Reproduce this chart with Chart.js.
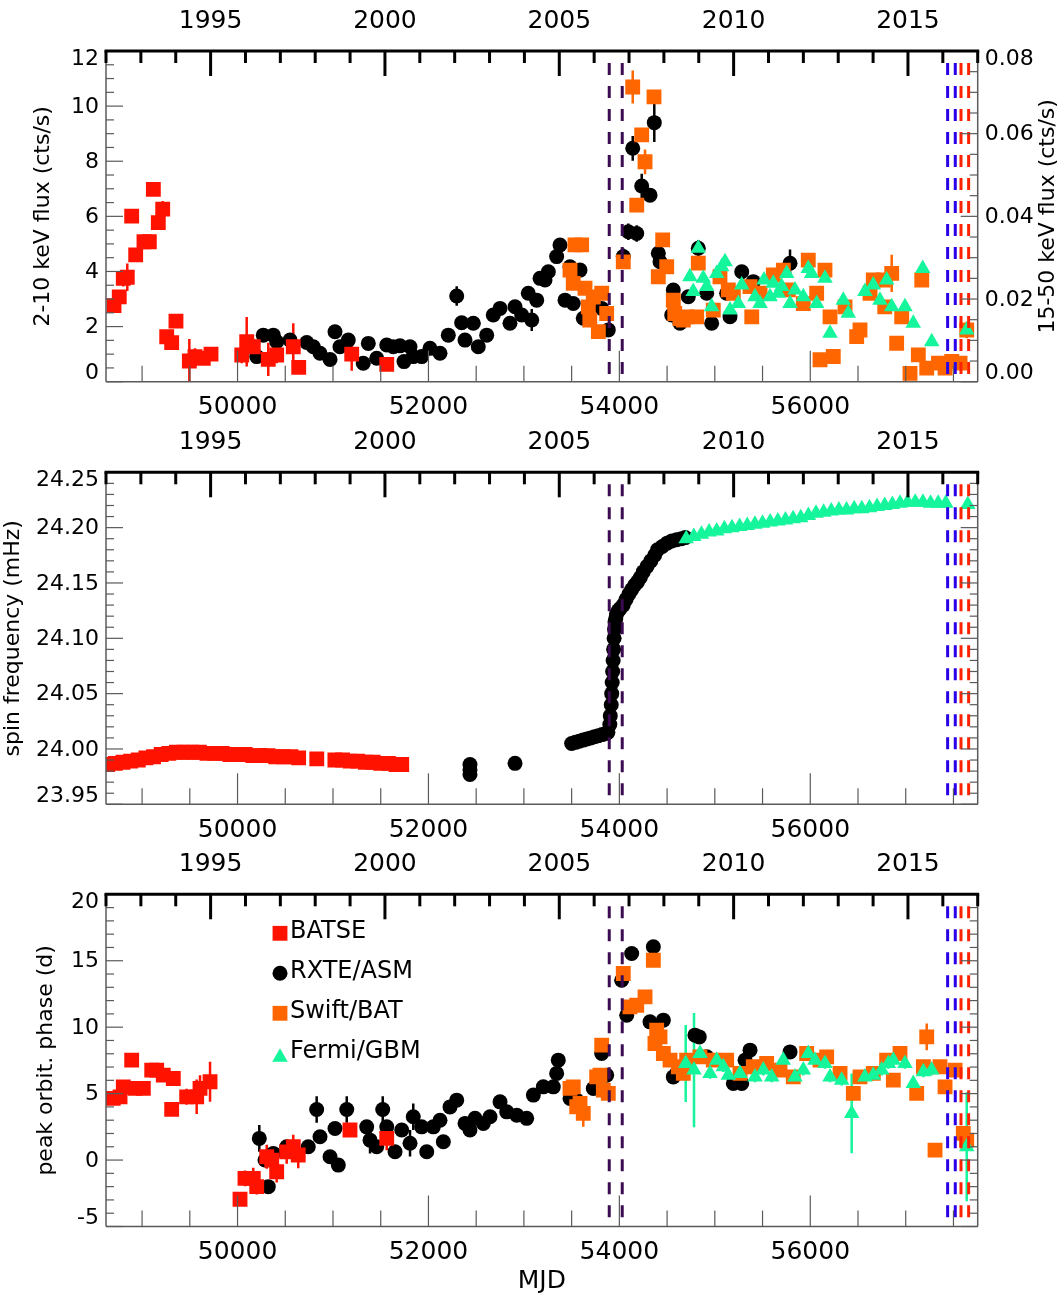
<!DOCTYPE html>
<html>
<head>
<meta charset="utf-8">
<title>Flux, spin frequency and orbital phase history</title>
<script src="https://cdn.jsdelivr.net/npm/chart.js@4/dist/chart.umd.min.js"></script>
<style>
  html, body { margin: 0; padding: 0; background: #fff; }
  #wrap { position: relative; width: 1063px; height: 1298px; }
  canvas { position: absolute; left: 0; }
</style>
</head>
<body>
<div id="wrap">
  <canvas id="flux-chart"  width="1063" height="420" style="top:0"></canvas>
  <canvas id="spin-chart"  width="1063" height="420" style="top:420px"></canvas>
  <canvas id="phase-chart" width="1063" height="458" style="top:840px"></canvas>
</div>
<script>
// ---- axes ----
const mjdRange   = [48622, 57754];
const yearRange  = [1992, 2017];
const mjdTicks   = [50000, 52000, 54000, 56000];
const yearTicks  = [1995, 2000, 2005, 2010, 2015];
const fluxTicks  = [0, 2, 4, 6, 8, 10, 12];
const batTicks   = [0.00, 0.02, 0.04, 0.06, 0.08];
const spinTicks  = [23.95, 24.00, 24.05, 24.10, 24.15, 24.20, 24.25];
const phaseTicks = [-5, 0, 5, 10, 15, 20];

// dashed markers (MJD)
const outburstMjd    = [53894, 54030, 57439, 57519, 57579, 57659];
const outburstColors = ['#3c0c52', '#3c0c52', '#2a00e8', '#2a00e8', '#ff2200', '#ff2200'];

const legendLabels = ['BATSE', 'RXTE/ASM', 'Swift/BAT', 'Fermi/GBM'];

// ---- panel 1: flux ----
const fluxBatseMjd = [48706, 48761, 48803, 48845, 48891, 48933, 49020, 49076, 49118, 49170, 49216, 49258, 49310, 49355, 49495, 49554, 49641, 49722, 50044, 50096, 50165, 50322, 50410, 50584, 50641, 51196, 51563];
const fluxBatse    = [2.76, 3.08, 3.75, 3.79, 6.01, 4.60, 5.08, 5.08, 6.98, 5.77, 6.26, 1.63, 1.42, 2.20, 0.75, 0.91, 0.85, 1.00, 0.97, 1.45, 1.27, 0.81, 0.97, 1.27, 0.52, 1.00, 0.63];
const fluxBatseErr = [0.2, 0.2, 0.3, 0.5, 0.2, 0.2, 0.2, 0.2, 0.2, 0.2, 0.3, 0.2, 0.2, 0.2, 0.8, 0.3, 0.2, 0.2, 0.3, 0.9, 0.3, 0.6, 0.3, 0.85, 0.2, 0.6, 0.2];

const fluxAsmMjd = [50201, 50270, 50375, 50410, 50550, 50725, 50794, 50864, 50969, 51021, 51073, 51160, 51317, 51370, 51458, 51563, 51632, 51702, 51744, 51807, 51841, 51929, 52016, 52121, 52208, 52296, 52348, 52383, 52470, 52522, 52610, 52679, 52750, 52854, 52907, 52977, 53046, 53082, 53134, 53169, 53221, 53256, 53343, 53378, 53431, 53483, 53517, 53588, 53622, 53815, 53884, 54041, 54094, 54140, 54182, 54234, 54321, 54366, 54408, 54426, 54548, 54565, 54635, 54722, 54827, 54915, 54967, 55124, 55159, 55282, 55403, 55788];
const fluxAsm    = [0.91, 1.69, 1.69, 1.45, 1.51, 1.42, 1.27, 1.03, 0.81, 1.81, 1.27, 1.51, 0.67, 1.39, 0.85, 1.33, 1.27, 1.30, 0.73, 1.27, 0.91, 0.91, 1.21, 1.03, 1.69, 3.11, 2.14, 1.51, 2.12, 1.27, 1.69, 2.42, 2.66, 2.12, 2.72, 2.42, 3.21, 2.24, 2.96, 3.75, 3.69, 3.99, 4.54, 4.96, 2.96, 4.17, 2.84, 4.05, 2.30, 2.66, 1.88, 4.54, 5.44, 8.47, 5.38, 7.10, 6.77, 9.40, 4.66, 4.35, 2.42, 3.33, 2.12, 3.08, 4.84, 3.21, 2.12, 3.21, 2.36, 3.99, 3.63, 4.30];
const fluxAsmErr = [0.15, 0.15, 0.15, 0.15, 0.15, 0.15, 0.15, 0.15, 0.15, 0.15, 0.15, 0.15, 0.15, 0.15, 0.15, 0.15, 0.15, 0.15, 0.15, 0.15, 0.15, 0.15, 0.15, 0.15, 0.15, 0.35, 0.15, 0.15, 0.15, 0.15, 0.15, 0.15, 0.15, 0.15, 0.15, 0.15, 0.15, 0.4, 0.15, 0.15, 0.15, 0.15, 0.15, 0.15, 0.15, 0.15, 0.15, 0.15, 0.15, 0.15, 0.15, 0.3, 0.3, 0.45, 0.3, 0.45, 0.2, 0.7, 0.15, 0.15, 0.15, 0.15, 0.15, 0.15, 0.3, 0.15, 0.15, 0.15, 0.15, 0.15, 0.15, 0.5];

// Swift/BAT on the right axis (15-50 keV, cts/s)
const fluxBatMjd = [53483, 53517, 53535, 53605, 53640, 53675, 53690, 53727, 53780, 53815, 53867, 54041, 54140, 54182, 54234, 54269, 54363, 54408, 54454, 54496, 54565, 54580, 54635, 54670, 54705, 54810, 54827, 54984, 55054, 55141, 55194, 55369, 55387, 55474, 55613, 55718, 55770, 55927, 55979, 56067, 56102, 56154, 56207, 56241, 56364, 56486, 56521, 56626, 56660, 56765, 56780, 56853, 56905, 56958, 57045, 57132, 57168, 57220, 57343, 57412, 57482, 57569, 57639];
const fluxBat    = [0.0270, 0.0238, 0.0331, 0.0331, 0.0226, 0.0181, 0.0149, 0.0205, 0.0121, 0.0214, 0.0165, 0.0290, 0.0713, 0.0427, 0.0597, 0.0532, 0.0689, 0.0254, 0.0343, 0.0278, 0.0197, 0.0165, 0.0153, 0.0149, 0.0157, 0.0157, 0.0287, 0.0173, 0.0254, 0.0222, 0.0214, 0.0230, 0.0157, 0.0214, 0.0258, 0.0270, 0.0222, 0.0189, 0.0294, 0.0214, 0.0053, 0.0270, 0.0157, 0.0061, 0.0181, 0.0109, 0.0125, 0.0214, 0.0246, 0.0246, 0.0181, 0.0262, 0.0093, 0.0157, 0.0020, 0.0065, 0.0246, 0.0033, 0.0045, 0.0033, 0.0049, 0.0045, 0.0125];
const fluxBatErr = [0.0012, 0.0012, 0.0012, 0.0012, 0.0012, 0.0012, 0.0012, 0.0012, 0.0012, 0.0012, 0.0012, 0.0012, 0.004, 0.0012, 0.0012, 0.003, 0.0012, 0.0012, 0.0012, 0.0012, 0.0012, 0.0012, 0.0012, 0.0012, 0.0012, 0.0012, 0.0012, 0.0012, 0.0012, 0.0012, 0.0012, 0.0012, 0.0012, 0.0012, 0.0012, 0.0012, 0.0012, 0.0012, 0.0012, 0.0012, 0.0012, 0.0012, 0.0012, 0.0012, 0.0012, 0.0012, 0.0012, 0.0012, 0.0012, 0.0012, 0.0012, 0.0045, 0.0012, 0.0012, 0.0012, 0.0012, 0.0012, 0.0012, 0.0012, 0.0012, 0.0012, 0.0012, 0.002];

const fluxGbmMjd = [54739, 54774, 54827, 54879, 54915, 54967, 55020, 55072, 55107, 55159, 55246, 55282, 55421, 55474, 55515, 55578, 55613, 55665, 55701, 55753, 55788, 55840, 55927, 55979, 56014, 56067, 56154, 56207, 56346, 56398, 56573, 56660, 56730, 56800, 56853, 56992, 57079, 57178, 57272, 57639];
const fluxGbm    = [3.81, 3.27, 4.84, 3.75, 3.45, 2.72, 3.93, 4.17, 4.35, 2.60, 2.84, 3.51, 3.08, 2.84, 3.69, 3.08, 3.57, 3.21, 3.45, 3.93, 2.84, 3.33, 3.08, 4.11, 3.93, 2.84, 3.75, 1.76, 2.96, 2.48, 3.27, 3.51, 2.96, 3.69, 2.72, 2.72, 2.12, 4.11, 1.45, 1.88];

// ---- panel 2: spin frequency (mHz) ----
const spinBatseMjd = [48640, 48720, 48800, 48880, 48960, 49040, 49120, 49200, 49280, 49360, 49440, 49520, 49600, 49680, 49760, 49840, 49920, 50000, 50080, 50160, 50240, 50320, 50400, 50480, 50560, 50640, 50830, 51020, 51100, 51180, 51260, 51340, 51420, 51500, 51580, 51660, 51720];
const spinBatse    = [23.986, 23.987, 23.988, 23.989, 23.990, 23.992, 23.993, 23.995, 23.996, 23.997, 23.997, 23.997, 23.997, 23.996, 23.996, 23.996, 23.995, 23.995, 23.995, 23.994, 23.994, 23.994, 23.993, 23.993, 23.993, 23.992, 23.991, 23.990, 23.990, 23.989, 23.989, 23.988, 23.988, 23.987, 23.987, 23.986, 23.986];
const spinBatseErr = [0.002, 0.002, 0.002, 0.002, 0.002, 0.002, 0.002, 0.002, 0.002, 0.002, 0.002, 0.002, 0.002, 0.002, 0.002, 0.002, 0.002, 0.002, 0.002, 0.002, 0.002, 0.002, 0.002, 0.002, 0.002, 0.002, 0.002, 0.002, 0.002, 0.002, 0.002, 0.002, 0.002, 0.002, 0.002, 0.002, 0.002];

const spinAsmMjd = [50267, 52435, 52435, 52435, 52907, 53500, 53540, 53580, 53620, 53660, 53700, 53740, 53780, 53820, 53860, 53880, 53900, 53905, 53915, 53920, 53925, 53930, 53935, 53940, 53945, 53950, 53955, 53962, 53970, 53990, 54010, 54040, 54070, 54100, 54130, 54160, 54190, 54220, 54250, 54290, 54330, 54370, 54400, 54450, 54500, 54550, 54600, 54650, 54690];
const spinAsm    = [23.994, 23.986, 23.981, 23.977, 23.987, 24.005, 24.006, 24.007, 24.008, 24.009, 24.010, 24.011, 24.012, 24.013, 24.014, 24.015, 24.022, 24.030, 24.040, 24.050, 24.060, 24.070, 24.080, 24.090, 24.100, 24.108, 24.115, 24.118, 24.122, 24.125, 24.127, 24.130, 24.135, 24.140, 24.144, 24.148, 24.151, 24.155, 24.160, 24.165, 24.170, 24.175, 24.180, 24.183, 24.186, 24.188, 24.189, 24.190, 24.191];

const spinGbmMjd = [54700, 54780, 54860, 54940, 55020, 55100, 55180, 55260, 55340, 55420, 55500, 55580, 55660, 55740, 55820, 55900, 55980, 56060, 56140, 56220, 56300, 56380, 56460, 56540, 56620, 56700, 56780, 56860, 56940, 57020, 57100, 57180, 57260, 57340, 57420, 57650];
const spinGbm    = [24.190, 24.192, 24.194, 24.196, 24.197, 24.199, 24.200, 24.201, 24.202, 24.203, 24.204, 24.205, 24.206, 24.207, 24.208, 24.209, 24.211, 24.213, 24.214, 24.215, 24.216, 24.216, 24.217, 24.217, 24.218, 24.219, 24.220, 24.221, 24.222, 24.223, 24.223, 24.223, 24.222, 24.222, 24.222, 24.221];

// ---- panel 3: peak orbital phase (d) ----
const phaseBatseMjd = [48698, 48769, 48803, 48891, 48926, 49013, 49101, 49153, 49222, 49310, 49327, 49467, 49572, 49607, 49712, 50026, 50078, 50165, 50201, 50306, 50358, 50410, 50515, 50584, 50636, 51178, 51563];
const phaseBatse    = [4.64, 4.76, 5.51, 7.52, 5.39, 5.39, 6.77, 6.77, 6.39, 3.81, 6.14, 4.76, 4.76, 5.39, 5.89, -2.95, -1.38, -1.38, -2.00, 0.25, 0.00, -0.88, 0.62, 1.00, 0.38, 2.26, 1.63];
const phaseBatseErr = [0.4, 0.4, 0.5, 0.4, 0.5, 0.4, 0.5, 0.5, 0.5, 0.5, 0.5, 0.6, 1.3, 1.0, 1.5, 0.5, 0.6, 0.8, 0.6, 0.9, 1.0, 0.8, 0.9, 0.9, 1.0, 0.5, 0.9];

const phaseAsmMjd = [50228, 50288, 50322, 50375, 50515, 50741, 50829, 50864, 50969, 51021, 51056, 51144, 51353, 51388, 51458, 51521, 51563, 51650, 51720, 51807, 51841, 51929, 51982, 52051, 52121, 52156, 52226, 52296, 52383, 52435, 52488, 52575, 52645, 52750, 52820, 52925, 53029, 53099, 53203, 53308, 53343, 53360, 53483, 53553, 53727, 53815, 53867, 54024, 54077, 54129, 54321, 54356, 54461, 54565, 54600, 54792, 54837, 54915, 55194, 55282, 55317, 55369, 55788];
const phaseAsm    = [1.63, 0.00, -2.00, 0.50, 1.00, 1.00, 3.81, 1.75, 0.25, 2.38, -0.38, 3.81, 2.50, 1.50, 1.00, 3.81, 2.50, 0.62, 2.26, 1.26, 3.26, 2.50, 0.62, 2.50, 3.00, 1.38, 4.00, 4.51, 2.76, 2.26, 3.14, 2.76, 3.26, 4.38, 3.63, 3.38, 3.14, 4.89, 5.51, 5.51, 6.52, 7.52, 4.64, 4.51, 5.39, 8.02, 6.39, 13.53, 10.90, 15.54, 10.40, 16.05, 10.53, 6.26, 6.52, 9.40, 9.27, 7.77, 5.77, 5.77, 7.52, 8.27, 8.14];
const phaseAsmErr = [1.0, 0.4, 0.4, 0.4, 0.4, 0.4, 1.0, 0.4, 0.4, 0.4, 0.4, 1.0, 0.4, 1.0, 0.4, 1.0, 0.4, 0.4, 0.4, 1.0, 1.0, 0.4, 0.4, 0.4, 0.4, 0.4, 0.4, 0.4, 0.4, 0.4, 0.4, 0.4, 0.4, 0.4, 0.4, 0.4, 0.4, 0.4, 0.4, 0.4, 0.4, 0.4, 0.4, 0.4, 0.4, 0.4, 0.4, 0.5, 0.5, 0.5, 0.5, 0.5, 0.5, 0.4, 0.4, 0.5, 0.5, 0.4, 0.4, 0.4, 0.4, 0.5, 0.5];

const phaseBatMjd = [53483, 53517, 53553, 53588, 53622, 53762, 53797, 53815, 53832, 53884, 54041, 54111, 54182, 54269, 54356, 54373, 54391, 54426, 54461, 54531, 54618, 54670, 54705, 54844, 54984, 55124, 55264, 55403, 55543, 55683, 55822, 55962, 56102, 56172, 56312, 56451, 56521, 56660, 56800, 56870, 56940, 57115, 57185, 57220, 57307, 57359, 57412, 57517, 57603, 57639];
const phaseBat    = [5.39, 5.51, 4.01, 4.26, 3.51, 6.26, 6.39, 8.65, 5.26, 5.02, 14.04, 11.53, 11.65, 12.28, 15.04, 8.77, 9.77, 9.27, 8.02, 7.52, 7.02, 6.52, 7.52, 7.77, 7.52, 7.52, 6.52, 7.02, 7.27, 6.77, 6.26, 8.02, 7.52, 7.77, 6.52, 5.02, 6.26, 6.52, 7.52, 6.01, 8.02, 5.02, 7.02, 9.27, 0.75, 7.02, 5.51, 6.77, 2.01, 1.50];
const phaseBatErr = [0.5, 0.5, 0.5, 0.5, 1.0, 0.5, 0.5, 0.5, 0.5, 0.5, 0.5, 0.5, 0.5, 0.5, 0.5, 0.5, 0.5, 0.5, 0.5, 0.5, 0.5, 0.5, 0.5, 0.5, 0.5, 0.5, 0.5, 0.5, 0.5, 0.5, 0.5, 0.5, 0.5, 0.5, 0.5, 0.5, 0.5, 0.5, 0.5, 0.5, 0.5, 0.5, 0.5, 1.0, 0.5, 0.5, 0.5, 0.5, 0.5, 0.5];

const phaseGbmMjd = [54695, 54782, 54845, 54950, 55020, 55089, 55141, 55264, 55421, 55508, 55596, 55717, 55840, 55927, 55979, 56049, 56154, 56207, 56329, 56434, 56573, 56660, 56748, 56818, 56870, 56992, 57079, 57185, 57272, 57639];
const phaseGbm    = [7.27, 6.77, 8.02, 6.52, 7.52, 7.02, 6.39, 6.52, 6.26, 6.77, 6.26, 7.52, 6.26, 6.77, 8.02, 7.52, 7.27, 6.26, 6.01, 3.51, 6.26, 6.39, 6.77, 7.27, 7.52, 7.27, 5.77, 6.64, 6.77, 1.00];
const phaseGbmErr = [2.9, 4.3, 0.5, 0.4, 0.4, 0.4, 0.4, 0.4, 0.4, 0.4, 0.4, 0.4, 0.4, 0.4, 0.4, 0.4, 0.4, 0.4, 0.4, 3.0, 0.4, 0.4, 0.4, 0.4, 0.4, 0.4, 0.4, 0.4, 0.4, 4.1];

// ---- styling ----
const FONT = '"DejaVu Sans", "Liberation Sans", sans-serif';
const AXIS_GREY = '#5a5a5a';
const STYLE = {
  'BATSE':     { shape: 'rect',     r: 10.5, color: '#ff1200', order: 2 },
  'RXTE/ASM':  { shape: 'circle',   r: 7.5,  color: '#000000', order: 3 },
  'Swift/BAT': { shape: 'rect',     r: 10.5, color: '#ff6600', order: 1 },
  'Fermi/GBM': { shape: 'triangle', r: 9,    color: '#14f59c', order: 0 },
};

const series = (label, xs, ys, errs, yAxisID = 'y') => {
  const s = STYLE[label];
  return {
    label, yAxisID, order: s.order, clip: 0,
    data: xs.map((x, i) => ({ x, y: ys[i] })),
    errorBars: errs || null,
    pointStyle: s.shape,
    pointRadius: s.r,
    pointHoverRadius: s.r,
    pointBackgroundColor: s.color,
    pointBorderWidth: 0,
    showLine: false,
  };
};

const steps = (min, max, step) => {
  const out = [];
  for (let k = Math.ceil(min / step - 1e-6); k * step <= max + step * 1e-6; k++) out.push(+(k * step).toFixed(6));
  return out;
};
const isMajor = (v, major) => Math.abs(v / major - Math.round(v / major)) < 1e-4;

function drawErrorBars(chart) {
  const { ctx, chartArea: a } = chart;
  ctx.save();
  ctx.beginPath(); ctx.rect(a.left, a.top, a.width, a.height); ctx.clip();
  ctx.lineWidth = 2.5;
  chart.data.datasets.forEach(ds => {
    if (!ds.errorBars) return;
    const xs = chart.scales.x, ys = chart.scales[ds.yAxisID];
    ctx.strokeStyle = ds.pointBackgroundColor;
    ds.data.forEach((p, j) => {
      const e = ds.errorBars[j];
      if (!e) return;
      const px = xs.getPixelForValue(p.x);
      ctx.beginPath();
      ctx.moveTo(px, ys.getPixelForValue(p.y - e));
      ctx.lineTo(px, ys.getPixelForValue(p.y + e));
      ctx.stroke();
    });
  });
  ctx.restore();
}

function drawOutbursts(chart) {
  const { ctx, chartArea: a, scales: { x } } = chart;
  ctx.save();
  ctx.lineWidth = 3;
  ctx.setLineDash([12, 11]);
  outburstMjd.forEach((m, i) => {
    const px = x.getPixelForValue(m);
    ctx.strokeStyle = outburstColors[i];
    ctx.beginPath(); ctx.moveTo(px, a.top + 12); ctx.lineTo(px, a.bottom); ctx.stroke();
  });
  ctx.restore();
}

function drawAxes(chart, cfg) {
  const { ctx, chartArea: a, scales } = chart;
  const xS = scales.x, yrS = scales.year, yS = scales.y;
  const seg = (x1, y1, x2, y2) => { ctx.beginPath(); ctx.moveTo(x1, y1); ctx.lineTo(x2, y2); ctx.stroke(); };
  const clampY = py => Math.min(Math.max(py + 1, a.top + 8), a.bottom - 8);
  ctx.save();

  // grey frame, ticks pointing inward
  ctx.strokeStyle = AXIS_GREY; ctx.lineWidth = 1.5;
  seg(a.left, a.top, a.left, a.bottom);
  seg(a.right, a.top, a.right, a.bottom);
  seg(a.left, a.bottom, a.right, a.bottom);
  ctx.lineWidth = 1.2;
  steps(xS.min, xS.max, 500).forEach(v => {
    const px = xS.getPixelForValue(v);
    seg(px, a.bottom, px, a.bottom - (v % 2000 === 0 ? 31 : 16));
  });
  steps(yS.min, yS.max, cfg.minor).forEach(v => {
    const py = yS.getPixelForValue(v);
    seg(a.left, py, a.left + (isMajor(v, cfg.major) ? 17 : 8), py);
  });
  const rS = cfg.right ? scales.y2 : yS;
  const rMinor = cfg.right ? cfg.right.minor : cfg.minor;
  const rMajor = cfg.right ? cfg.right.major : cfg.major;
  steps(rS.min, rS.max, rMinor).forEach(v => {
    const py = rS.getPixelForValue(v);
    seg(a.right, py, a.right - (isMajor(v, rMajor) ? 17 : 8), py);
  });

  // top axis in calendar years: thick black
  ctx.strokeStyle = '#000'; ctx.lineWidth = 3;
  seg(a.left - 1.5, a.top, a.right + 1.5, a.top);
  steps(yrS.min, yrS.max, 1).forEach(v => {
    const px = yrS.getPixelForValue(v);
    seg(px, a.top, px, a.top + (v % 5 === 0 ? 25 : 12));
  });

  // tick labels
  ctx.fillStyle = '#000';
  ctx.textBaseline = 'middle';
  ctx.font = `25px ${FONT}`;
  ctx.textAlign = 'center';
  mjdTicks.forEach(v => ctx.fillText(String(v), xS.getPixelForValue(v), a.bottom + 26));
  yearTicks.forEach(v => ctx.fillText(String(v), yrS.getPixelForValue(v), a.top - 30));
  ctx.font = `22px ${FONT}`;
  ctx.textAlign = 'right';
  cfg.ticks.forEach(v => ctx.fillText(cfg.fmt(v), a.left - 7, clampY(yS.getPixelForValue(v))));
  if (cfg.right) {
    ctx.textAlign = 'left';
    cfg.right.ticks.forEach(v => ctx.fillText(cfg.right.fmt(v), a.right + 7, clampY(rS.getPixelForValue(v))));
  }

  // titles
  const vtext = (text, x, y) => {
    ctx.save(); ctx.translate(x, y); ctx.rotate(-Math.PI / 2);
    ctx.textAlign = 'center'; ctx.textBaseline = 'middle';
    ctx.fillText(text, 0, 0); ctx.restore();
  };
  const midY = (a.top + a.bottom) / 2;
  vtext(cfg.title, cfg.titleX, midY);
  if (cfg.right) vtext(cfg.right.title, a.right + 71, midY);
  if (cfg.xTitle) {
    ctx.font = `25px ${FONT}`; ctx.textAlign = 'center';
    ctx.fillText(cfg.xTitle, (a.left + a.right) / 2, a.bottom + 55);
  }
  ctx.restore();
}

function drawLegend(chart) {
  const { ctx, chartArea: a } = chart;
  ctx.save();
  ctx.font = `24px ${FONT}`; ctx.textAlign = 'left'; ctx.textBaseline = 'alphabetic';
  legendLabels.forEach((label, i) => {
    const s = STYLE[label];
    const cy = a.top + 39 + i * 40;
    const sy = s.shape === 'triangle' ? cy + 4 : cy;
    ctx.fillStyle = s.color;
    Chart.helpers.drawPoint(ctx, { pointStyle: s.shape, radius: s.r, rotation: 0, borderWidth: 0 }, a.left + 174, sy);
    ctx.fillStyle = '#000';
    ctx.fillText(label, a.left + 184, cy + 5);
  });
  ctx.restore();
}

const idlFrame = cfg => ({
  id: 'idlFrame',
  beforeDatasetsDraw(chart) { drawErrorBars(chart); },
  afterDatasetsDraw(chart) {
    drawOutbursts(chart);
    drawAxes(chart, cfg);
    if (cfg.legend) drawLegend(chart);
  },
});

function makeChart(id, datasets, yScales, padding, cfg) {
  return new Chart(document.getElementById(id), {
    type: 'scatter',
    data: { datasets },
    options: {
      responsive: false,
      animation: false,
      devicePixelRatio: 1,
      events: [],
      layout: { padding },
      plugins: { legend: { display: false }, tooltip: { enabled: false } },
      scales: {
        x:    { type: 'linear', axis: 'x', position: 'bottom', min: mjdRange[0], max: mjdRange[1], display: false },
        year: { type: 'linear', axis: 'x', position: 'top', min: yearRange[0], max: yearRange[1], display: false },
        ...yScales,
      },
    },
    plugins: [idlFrame(cfg)],
  });
}

makeChart('flux-chart', [
  series('RXTE/ASM', fluxAsmMjd, fluxAsm, fluxAsmErr),
  series('BATSE', fluxBatseMjd, fluxBatse, fluxBatseErr),
  series('Swift/BAT', fluxBatMjd, fluxBat, fluxBatErr, 'y2'),
  series('Fermi/GBM', fluxGbmMjd, fluxGbm, null),
], {
  y:  { type: 'linear', position: 'left', min: 0, max: 12, display: false },
  y2: { type: 'linear', position: 'right', min: 0, max: 0.08, display: false },
}, { left: 106, right: 85.3, top: 51, bottom: 38.3 }, {
  ticks: fluxTicks, fmt: v => String(v), minor: 0.5, major: 2,
  title: '2-10 keV flux (cts/s)', titleX: 43,
  right: { ticks: batTicks, fmt: v => v.toFixed(2), minor: 0.005, major: 0.02, title: '15-50 keV flux (cts/s)' },
});

makeChart('spin-chart', [
  series('RXTE/ASM', spinAsmMjd, spinAsm, null),
  series('BATSE', spinBatseMjd, spinBatse, spinBatseErr),
  series('Fermi/GBM', spinGbmMjd, spinGbm, null),
], {
  y: { type: 'linear', position: 'left', min: 23.95, max: 24.25, display: false },
}, { left: 106, right: 85.3, top: 52.3, bottom: 35.7 }, {
  ticks: spinTicks, fmt: v => v.toFixed(2), minor: 0.01, major: 0.05,
  title: 'spin frequency (mHz)', titleX: 13,
});

makeChart('phase-chart', [
  series('RXTE/ASM', phaseAsmMjd, phaseAsm, phaseAsmErr),
  series('BATSE', phaseBatseMjd, phaseBatse, phaseBatseErr),
  series('Swift/BAT', phaseBatMjd, phaseBat, phaseBatErr),
  series('Fermi/GBM', phaseGbmMjd, phaseGbm, phaseGbmErr),
], {
  y: { type: 'linear', position: 'left', min: -5, max: 20, display: false },
}, { left: 106, right: 85.3, top: 54.3, bottom: 71.5 }, {
  ticks: phaseTicks, fmt: v => String(v), minor: 1, major: 5,
  title: 'peak orbit. phase (d)', titleX: 46, xTitle: 'MJD', legend: true,
});
</script>
</body>
</html>
